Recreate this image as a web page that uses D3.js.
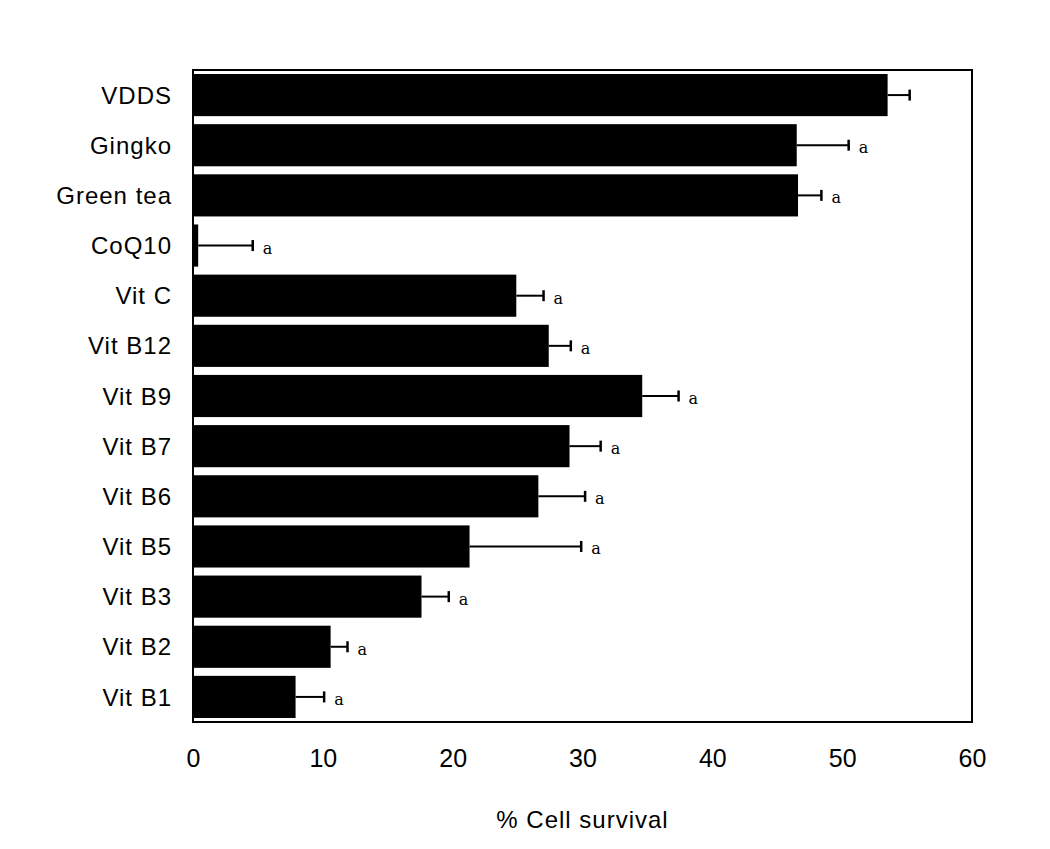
<!DOCTYPE html>
<html>
<head>
<meta charset="utf-8">
<script src="https://cdn.jsdelivr.net/npm/d3@7"></script>
<style>
  body { margin: 0; background: #fff; }
  svg text { font-family: "Liberation Sans", Arial, sans-serif; fill: #000; }
</style>
</head>
<body>
<div id="chart"></div>
<script>
  //-----------------------------DATA-----------------------------//
  const categories = ["VDDS", "Gingko", "Green tea", "CoQ10", "Vit C", "Vit B12", "Vit B9",
    "Vit B7", "Vit B6", "Vit B5", "Vit B3", "Vit B2", "Vit B1"];
  const survival = [53.5, 46.5, 46.6, 0.4, 24.9, 27.4, 34.6, 29.0, 26.6, 21.3, 17.6, 10.6, 7.9];
  const errors = [1.7, 4.0, 1.8, 4.2, 2.1, 1.7, 2.8, 2.4, 3.6, 8.6, 2.1, 1.3, 2.2];
  const marks = ["", "a", "a", "a", "a", "a", "a", "a", "a", "a", "a", "a", "a"];
  const xTicks = [0, 10, 20, 30, 40, 50, 60];

  //-----------------------------SVG------------------------------//
  const width = 1050;
  const height = 849;
  const margin = {top: 70, right: 78, bottom: 127, left: 193};
  const innerW = width - margin.left - margin.right;
  const innerH = height - margin.top - margin.bottom;

  const svg = d3.select("#chart").append("svg")
    .attr("width", width)
    .attr("height", height);

  const g = svg.append("g")
    .attr("transform", "translate(" + margin.left + "," + margin.top + ")");

  //----------------------------SCALES----------------------------//
  const xScale = d3.scaleLinear().domain([0, 60]).range([0, innerW]);
  const yScale = d3.scaleBand().domain(categories).range([0, innerH])
    .paddingInner(0.16).paddingOuter(0.08);

  //----------------------------BARS------------------------------//
  const rows = categories.map((c, i) => {
    return {name: c, val: survival[i], err: errors[i], mark: marks[i]};
  });

  const bars = g.selectAll(".row")
    .data(rows)
    .enter()
    .append("g")
    .attr("class", "row");

  bars.append("rect")
    .attr("x", xScale(0))
    .attr("y", d => yScale(d.name))
    .attr("width", d => xScale(d.val) - xScale(0))
    .attr("height", yScale.bandwidth())
    .attr("fill", "#000");

  // error bars
  bars.append("line")
    .attr("x1", d => xScale(d.val))
    .attr("x2", d => xScale(d.val + d.err))
    .attr("y1", d => yScale(d.name) + yScale.bandwidth() / 2)
    .attr("y2", d => yScale(d.name) + yScale.bandwidth() / 2)
    .attr("stroke", "#000")
    .attr("stroke-width", 2);

  bars.append("line")
    .attr("x1", d => xScale(d.val + d.err))
    .attr("x2", d => xScale(d.val + d.err))
    .attr("y1", d => yScale(d.name) + yScale.bandwidth() / 2 - 5.5)
    .attr("y2", d => yScale(d.name) + yScale.bandwidth() / 2 + 5.5)
    .attr("stroke", "#000")
    .attr("stroke-width", 2.5);

  bars.append("text")
    .attr("x", d => xScale(d.val + d.err) + 10)
    .attr("y", d => yScale(d.name) + yScale.bandwidth() / 2 + 8)
    .style("font-family", "'DejaVu Serif', 'Liberation Serif', serif")
    .style("font-size", "16px")
    .text(d => d.mark);

  //-----------------------------AXES-----------------------------//
  const yaxis = d3.axisLeft(yScale).tickSize(0).tickPadding(21);
  const xaxis = d3.axisBottom(xScale).tickValues(xTicks).tickSize(0).tickPadding(27);

  const gy = g.append("g").call(yaxis);
  gy.select(".domain").remove();
  gy.selectAll("text")
    .style("font-size", "24px")
    .style("letter-spacing", "1px")
    .attr("dy", "0.36em");

  const gx = g.append("g")
    .attr("transform", "translate(0," + innerH + ")")
    .call(xaxis);
  gx.select(".domain").remove();
  gx.selectAll("text").style("font-size", "25px");

  // frame
  g.append("rect")
    .attr("x", 0)
    .attr("y", 0)
    .attr("width", innerW)
    .attr("height", innerH)
    .attr("fill", "none")
    .attr("stroke", "#000")
    .attr("stroke-width", 2);

  g.append("text")
    .attr("x", innerW / 2)
    .attr("y", innerH + 106)
    .attr("text-anchor", "middle")
    .style("font-size", "24px")
    .style("letter-spacing", "1px")
    .text("% Cell survival");
</script>
</body>
</html>
